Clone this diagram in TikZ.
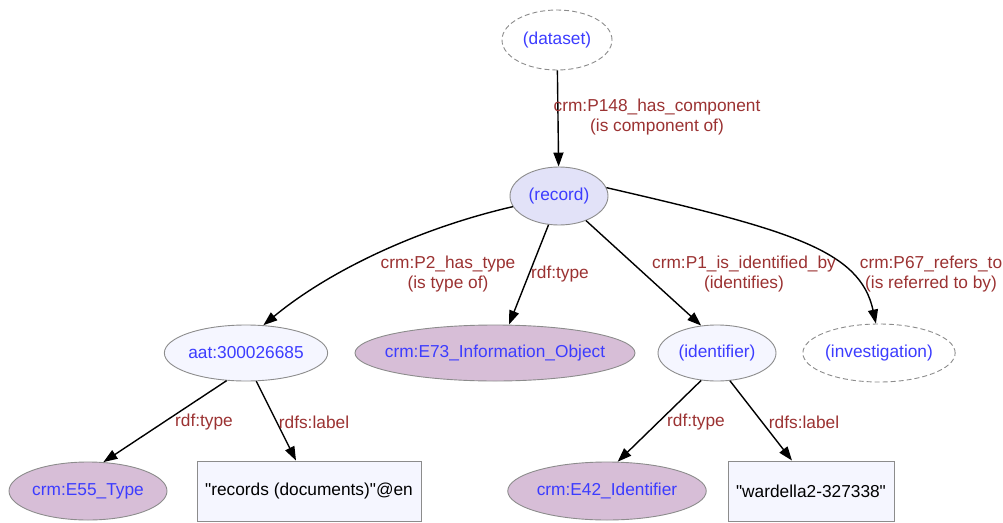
\documentclass[tikz,border=0pt]{standalone}
\usepackage{fontspec}
\setmainfont{Liberation Sans}
\usetikzlibrary{shapes.geometric,arrows.meta}
\definecolor{nodetext}{RGB}{60,60,255}
\definecolor{edgetext}{RGB}{155,50,50}
\definecolor{recfill}{RGB}{226,226,248}
\definecolor{instfill}{RGB}{245,246,255}
\definecolor{classfill}{RGB}{215,190,215}
\definecolor{bordergray}{RGB}{140,140,140}
\tikzset{
  base/.style={font=\fontsize{17.3}{20}\selectfont, inner sep=0pt},
  ell/.style={base, ellipse, draw=bordergray, line width=0.9pt, text=nodetext},
  blank/.style={ell, dashed, dash pattern=on 5pt off 3pt, fill=white},
  inst/.style={ell, fill=instfill},
  rec/.style={ell, fill=recfill},
  cls/.style={ell, fill=classfill},
  lit/.style={base, rectangle, draw=bordergray, line width=0.9pt, fill=instfill, text=black},
  lbl/.style={base, text=edgetext, align=center},
  edge/.style={line width=1.4pt, -{Triangle[length=14pt,width=10pt]}}
}
\begin{document}
\begin{tikzpicture}[x=1pt,y=-1pt]
\useasboundingbox (0,0) rectangle (1003,522);
% nodes
\node[blank, minimum width=110pt, minimum height=60pt] (dataset) at (557,40) {(dataset)};
\node[rec, minimum width=98pt, minimum height=58pt] (record) at (559,196) {(record)};
\node[inst, minimum width=160pt, minimum height=56pt] (aat) at (246,353) {aat:300026685};
\node[cls, inner xsep=-13pt, minimum width=280pt, minimum height=56pt] (e73) at (495,353) {crm:E73\_Information\_Object};
\node[inst, minimum width=118pt, minimum height=56pt] (ident) at (717,353) {(identifier)};
\node[blank, minimum width=150pt, minimum height=58pt] (invest) at (879,353) {(investigation)};
\node[cls, minimum width=158pt, minimum height=58pt] (e55) at (88,491) {crm:E55\_Type};
\node[lit, minimum width=224pt, minimum height=60pt] (reclabel) at (309,491) {\textquotedbl records (documents)\textquotedbl @en};
\node[cls, minimum width=188pt, minimum height=58pt] (e42) at (607,491) {crm:E42\_Identifier};
\node[lit, minimum width=166pt, minimum height=60pt] (idlabel) at (811,491) {\textquotedbl wardella2-327338\textquotedbl};
% edges
\draw[edge] (dataset) -- (record);
\draw[edge] (record.193) .. controls (420,228) and (330,270) .. (aat.58);
\draw[edge] (record.250) -- (e73.north -| 509,0);
\draw[edge] (record) -- (ident.120);
\draw[edge] (record.10) .. controls (790,230) and (860,250) .. (invest.96);
\draw[edge] (aat.235) -- (e55.62);
\draw[edge] (aat.290) -- (reclabel.north -| 296,0);
\draw[edge] (ident.240) -- (e42.70);
\draw[edge] (ident.295) -- (idlabel.north -| 792,0);
% edge labels
\node[lbl] (lp148) at (657,117) {crm:P148\_has\_component\\(is component of)};
\node[lbl] (lp2) at (448,274) {crm:P2\_has\_type\\(is type of)};
\node[lbl] (ltype1) at (560,274) {rdf:type};
\node[lbl] (lp1) at (744,274) {crm:P1\_is\_identified\_by\\(identifies)};
\node[lbl] (lp67) at (931,274) {crm:P67\_refers\_to\\(is referred to by)};
\node[lbl] (ltype2) at (204,422) {rdf:type};
\node[lbl] (llabel1) at (314,422) {rdfs:label};
\node[lbl] (ltype3) at (696,422) {rdf:type};
\node[lbl] (llabel2) at (804,422) {rdfs:label};
\end{tikzpicture}
\end{document}
